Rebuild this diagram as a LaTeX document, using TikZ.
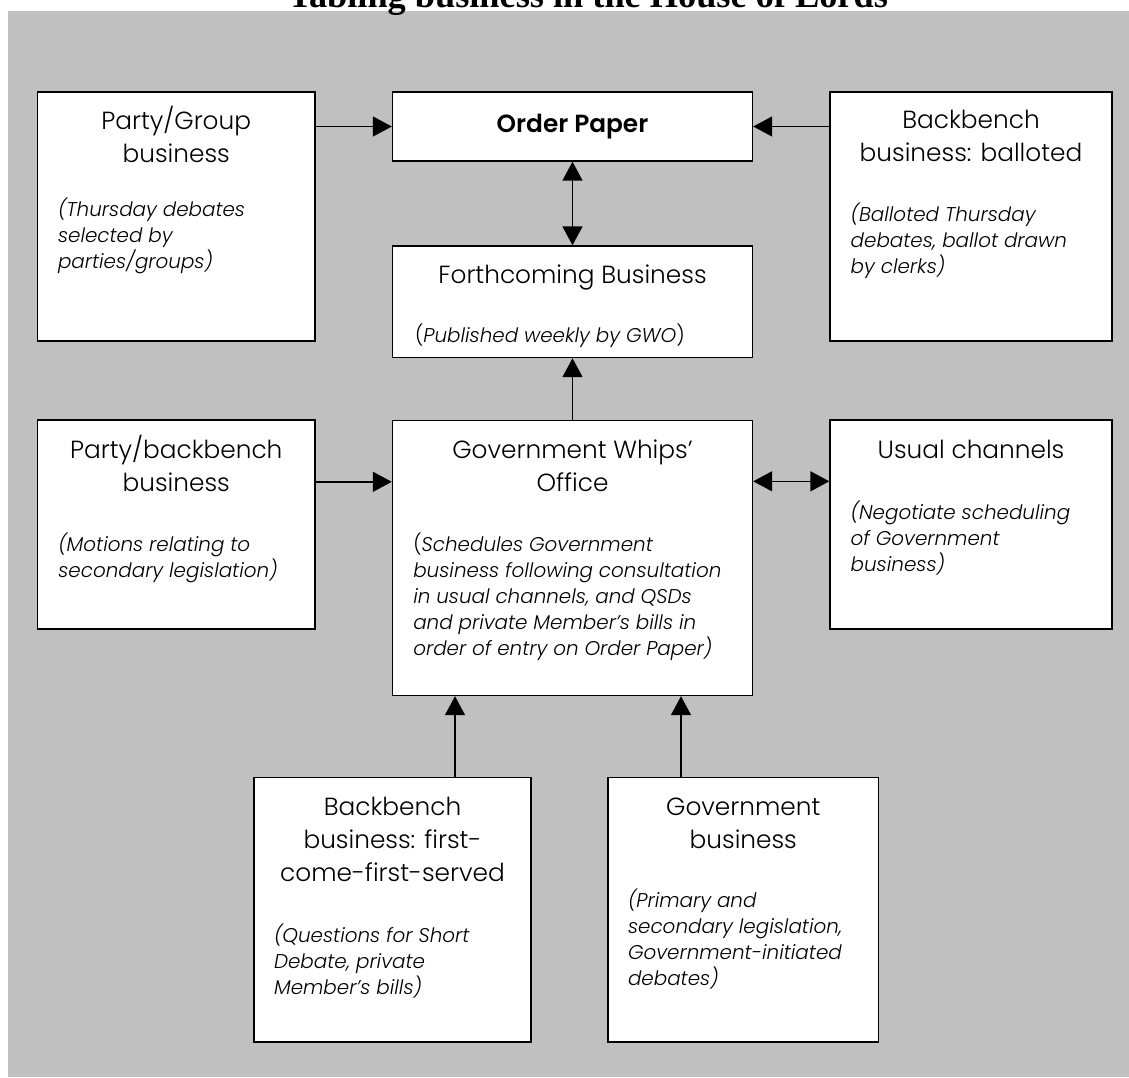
\documentclass[tikz,border=0pt]{standalone}
\usepackage{fontspec}
\setmainfont{Poppins}[UprightFont={* Light}, ItalicFont={* Light Italic}, BoldFont={* SemiBold}, BoldItalicFont={* SemiBold Italic}]
\newfontfamily\titlefont{Liberation Serif}
\usetikzlibrary{arrows.meta}
\definecolor{bggray}{RGB}{192,192,192}
\newcommand{\hdfont}{\fontsize{24.8}{33}\selectfont}
\newcommand{\itfont}{\fontsize{19.9}{26}\selectfont\itshape}
\tikzset{
  box/.style={draw=black, line width=1.4pt, fill=white, rectangle, inner sep=0pt},
  txt/.style={inner sep=0pt, outer sep=0pt},
  arr/.style={line width=1.5pt, -{Triangle[length=19pt,width=20pt]}},
  dbl/.style={line width=1.5pt, {Triangle[length=19pt,width=20pt]}-{Triangle[length=19pt,width=20pt]}},
}
\newcommand{\hdblk}[2]{\parbox[t]{#1pt}{\centering\hdfont #2}}
\newcommand{\itblk}[2]{\parbox[t]{#1pt}{\raggedright\itfont #2}}
\begin{document}
\begin{tikzpicture}[x=1pt,y=-1pt]
\useasboundingbox (0,0) rectangle (1129,1077);
\clip (0,0) rectangle (1129,1077);
\fill[bggray] (8,11) rectangle (1129,1077);
\node[txt, anchor=base, font=\titlefont\bfseries\fontsize{36.3}{40}\selectfont] (title) at (588,7.5) {Tabling business in the House of Lords};

% boxes
\node[box, minimum width=277.5pt, minimum height=249pt] (pg) at (176.25,216.5) {};
\node[box, minimum width=360pt, minimum height=69pt] (op) at (572.5,126.5) {};
\node[box, minimum width=282pt, minimum height=249pt] (bb) at (971,216.5) {};
\node[box, minimum width=360pt, minimum height=111.5pt] (fb) at (572.5,301.75) {};
\node[box, minimum width=277.5pt, minimum height=209pt] (pb) at (176.25,524.5) {};
\node[box, minimum width=360pt, minimum height=275pt] (gwo) at (572.5,558) {};
\node[box, minimum width=282pt, minimum height=209pt] (uc) at (971,524.5) {};
\node[box, minimum width=277pt, minimum height=264.5pt] (fcfs) at (392.5,909.75) {};
\node[box, minimum width=270.5pt, minimum height=264.5pt] (gb) at (743.25,909.75) {};

% texts
\node[txt, anchor=base] (pg-h) at (176.25,129.3) {\hdblk{270}{Party/Group\\business}};
\node[txt, anchor=base west] (pg-i) at (58,216) {\itblk{250}{(Thursday debates\\selected by\\parties/groups)}};
\node[txt, anchor=base, font=\hdfont\bfseries] (op-h) at (572.5,132) {Order Paper};
\node[txt, anchor=base] (bb-h) at (971,128.3) {\hdblk{275}{Backbench\\business: balloted}};
\node[txt, anchor=base west] (bb-i) at (850.7,221.7) {\itblk{255}{(Balloted Thursday\\debates, ballot drawn\\by clerks)}};
\node[txt, anchor=base, font=\hdfont] (fb-h) at (572.5,283.3) {Forthcoming Business};
\node[txt, anchor=base west, font=\itfont] (fb-i) at (415,342.7) {{\upshape(}Published weekly by GWO{\upshape)}};
\node[txt, anchor=base] (pb-h) at (176.25,458.3) {\hdblk{270}{Party/backbench\\business}};
\node[txt, anchor=base west] (pb-i) at (58.3,551.7) {\itblk{250}{(Motions relating to\\secondary legislation)}};
\node[txt, anchor=base] (gwo-h) at (572.5,458.3) {\hdblk{350}{Government Whips'\\Office}};
\node[txt, anchor=base west] (gwo-i) at (413.3,551.7) {\itblk{335}{{\upshape(}Schedules Government\\business following consultation\\in usual channels, and QSDs\\and private Member's bills in\\order of entry on Order Paper)}};
\node[txt, anchor=base] (uc-h) at (971,458.3) {\hdblk{275}{Usual channels}};
\node[txt, anchor=base west] (uc-i) at (850.7,519.3) {\itblk{255}{(Negotiate scheduling\\of Government\\business)}};
\node[txt, anchor=base] (fcfs-h) at (392.5,815.3) {\hdblk{270}{Backbench\\business: first-\\come-first-served}};
\node[txt, anchor=base west] (fcfs-i) at (274,942) {\itblk{250}{(Questions for Short\\Debate, private\\Member's bills)}};
\node[txt, anchor=base] (gb-h) at (743.25,815) {\hdblk{265}{Government\\business}};
\node[txt, anchor=base west] (gb-i) at (628,907) {\itblk{245}{(Primary and\\secondary legislation,\\Government-initiated\\debates)}};

% connectors
\draw[arr] (pg.east |- op.west) -- (op.west);
\draw[arr] (bb.west |- op.east) -- (op.east);
\draw[dbl] (op.south) -- (fb.north);
\draw[arr] (gwo.north) -- (fb.south);
\coordinate (pbo) at ([yshift=-62.5pt]pb.north east);
\draw[arr] (pbo) -- (pbo -| gwo.west);
\coordinate (uci) at ([yshift=-62pt]uc.north west);
\draw[dbl] (uci -| gwo.east) -- (uci);
\coordinate (fco) at ([xshift=62.5pt]fcfs.north);
\draw[arr] (fco) -- (fco |- gwo.south);
\coordinate (gbo) at ([xshift=-62.25pt]gb.north);
\draw[arr] (gbo) -- (gbo |- gwo.south);
\end{tikzpicture}
\end{document}
